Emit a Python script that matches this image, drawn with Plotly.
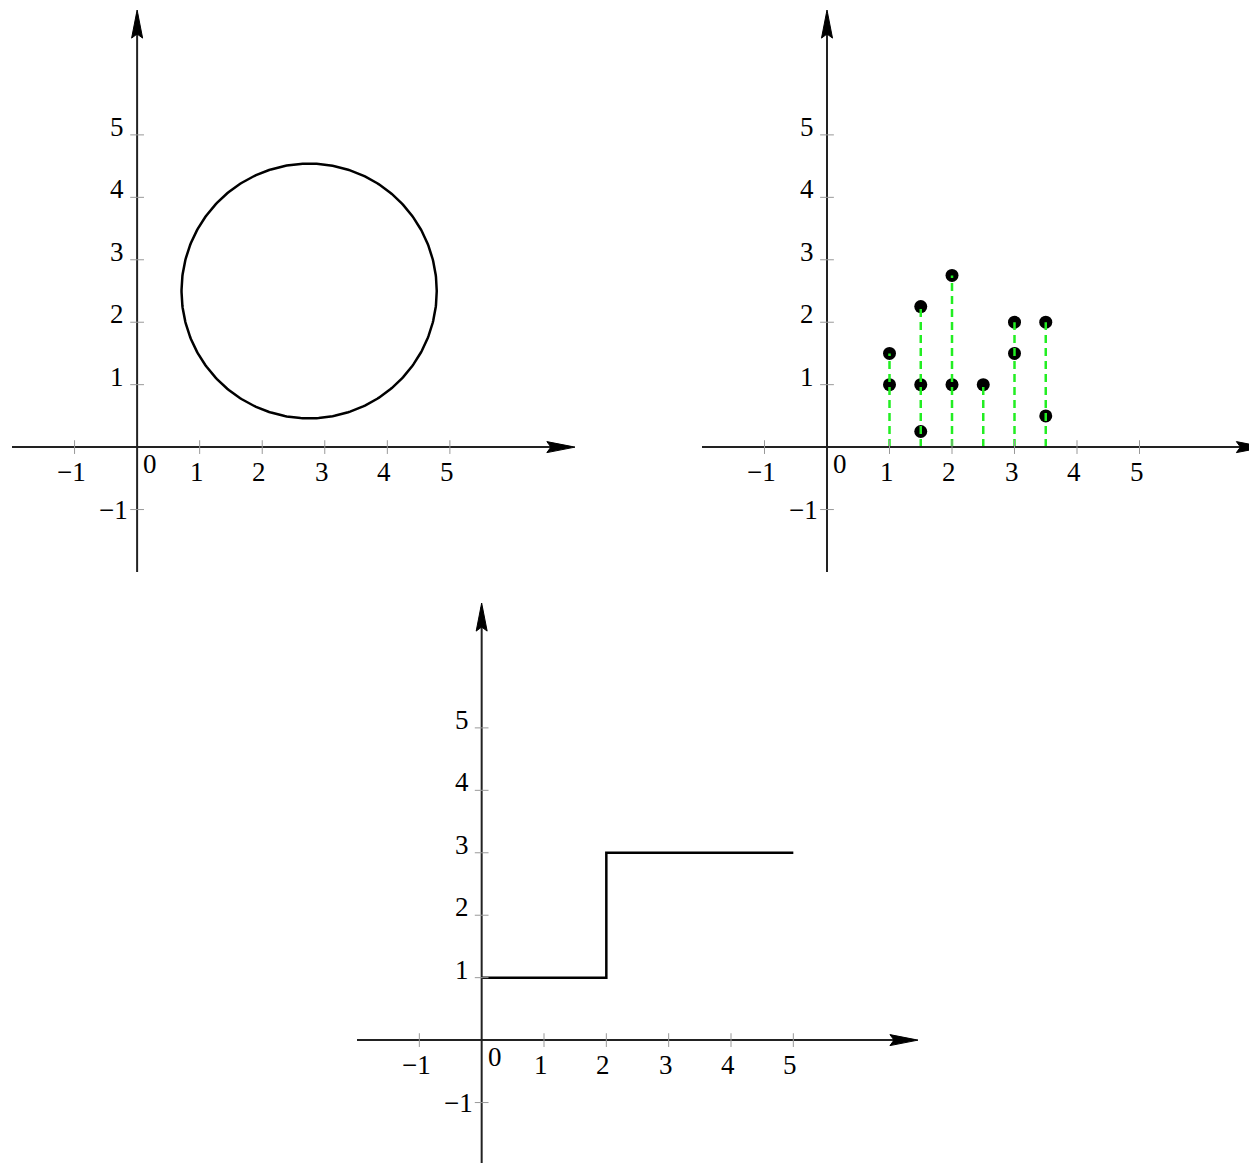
import numpy as np
import plotly.graph_objects as go

# ---------------- data ----------------
x_ticks = [-1, 1, 2, 3, 4, 5]
y_ticks = [-1, 1, 2, 3, 4, 5]
x_tick_labels = ["\u22121", "1", "2", "3", "4", "5"]
y_tick_labels = ["\u22121", "1", "2", "3", "4", "5"]

circle_center_x = 2.75
circle_center_y = 2.5
circle_radius = 2.04

points_x = [1, 1, 1.5, 1.5, 1.5, 2, 2, 2.5, 3, 3, 3.5, 3.5]
points_y = [1, 1.5, 0.25, 1, 2.25, 1, 2.75, 1, 1.5, 2, 0.5, 2]

step_x = [0, 2, 5]
step_y = [1, 3, 3]

# ---------------- figure ----------------
OFF = 8  # page body margin
W, H = 1257 - OFF, 1163 - OFF
fig = go.Figure()


def px_x(p):
    return (p - OFF) / W


def px_y(p):
    return 1 - (p - OFF) / H


panels = [
    dict(xa="x", ya="y", xdom=[px_x(12), px_x(575)], ydom=[px_y(572), px_y(10)],
         xr=[-2, 7], yr=[-2, 7]),
    dict(xa="x2", ya="y2", xdom=[px_x(702), 1.0], ydom=[px_y(572), px_y(10)],
         xr=[-2, (1257 - 827) / 62.5], yr=[-2, 7]),
    dict(xa="x3", ya="y3", xdom=[px_x(357), px_x(918)], ydom=[0.0, px_y(603)],
         xr=[-2, 7], yr=[-(1163 - 1040) / 62.5, 7]),
]

FONT = dict(family="Liberation Serif", size=27, color="black")
AXIS_COL = "#222222"
TICK_COL = "#999999"
shapes = []
annots = []
AL, AW, AI = 0.45, 0.088, 0.065  # arrow length, half-width, indent (data units)

for i, p in enumerate(panels):
    sfx = "" if i == 0 else str(i + 1)
    xa, ya = p["xa"], p["ya"]
    fig.update_layout(**{
        "xaxis" + sfx: dict(domain=p["xdom"], range=p["xr"], visible=False, fixedrange=True),
        "yaxis" + sfx: dict(domain=p["ydom"], range=p["yr"], visible=False, fixedrange=True),
    })
    # axis lines
    shapes.append(dict(type="line", xref=xa, yref=ya, x0=-2, x1=7 - AI, y0=0, y1=0,
                       line=dict(color=AXIS_COL, width=2)))
    shapes.append(dict(type="line", xref=xa, yref=ya, x0=0, x1=0, y0=-2, y1=7 - AI,
                       line=dict(color=AXIS_COL, width=2)))
    # arrowheads
    shapes.append(dict(type="path", xref=xa, yref=ya,
                       path=f"M 7,0 L {7-AL},{AW} L {7-AL+AI},0 L {7-AL},{-AW} Z",
                       fillcolor="black", line=dict(color="black", width=1)))
    shapes.append(dict(type="path", xref=xa, yref=ya,
                       path=f"M 0,7 L {AW},{7-AL} L 0,{7-AL+AI} L {-AW},{7-AL} Z",
                       fillcolor="black", line=dict(color="black", width=1)))
    # ticks
    for t, lab in zip(x_ticks, x_tick_labels):
        shapes.append(dict(type="line", xref=xa, yref=ya, x0=t, x1=t, y0=-0.11, y1=0.11,
                           line=dict(color=TICK_COL, width=1)))
        annots.append(dict(xref=xa, yref=ya, x=t, y=0, text=lab, showarrow=False,
                           xanchor="center", yanchor="middle", xshift=-3, yshift=-25, font=FONT))
    for t, lab in zip(y_ticks, y_tick_labels):
        shapes.append(dict(type="line", xref=xa, yref=ya, y0=t, y1=t, x0=-0.11, x1=0.11,
                           line=dict(color=TICK_COL, width=1)))
        if t > 0:
            annots.append(dict(xref=xa, yref=ya, x=0, y=t, text=lab, showarrow=False,
                               xanchor="right", yanchor="middle", xshift=-11, yshift=8, font=FONT))
        else:
            annots.append(dict(xref=xa, yref=ya, x=0, y=t, text=lab, showarrow=False,
                               xanchor="right", yanchor="middle", xshift=-7, yshift=0, font=FONT))
    annots.append(dict(xref=xa, yref=ya, x=0, y=0, text="0", showarrow=False,
                       xanchor="center", yanchor="middle", xshift=13, yshift=-17, font=FONT))

# panel 1: circle
theta = np.linspace(0, 2 * np.pi, 400)
fig.add_trace(go.Scatter(x=circle_center_x + circle_radius * np.cos(theta),
                         y=circle_center_y + circle_radius * np.sin(theta),
                         mode="lines", line=dict(color="black", width=2.5),
                         xaxis="x", yaxis="y", hoverinfo="skip"))

# panel 2: points with green dashed stems
fig.add_trace(go.Scatter(x=points_x, y=points_y, mode="markers",
                         marker=dict(color="black", size=13),
                         xaxis="x2", yaxis="y2"))
stem_x = sorted(set(points_x))
for sx in stem_x:
    top = max(py for px, py in zip(points_x, points_y) if px == sx)
    fig.add_trace(go.Scatter(x=[sx, sx], y=[0, top], mode="lines",
                             line=dict(color="#22ee22", width=2.5, dash="8px,5px"),
                             xaxis="x2", yaxis="y2", hoverinfo="skip"))

# panel 3: step function
fig.add_trace(go.Scatter(x=step_x, y=step_y, mode="lines", line_shape="hv",
                         line=dict(color="black", width=2.5),
                         xaxis="x3", yaxis="y3"))

fig.update_layout(width=W, height=H, margin=dict(l=0, r=0, t=0, b=0),
                  paper_bgcolor="white", plot_bgcolor="white", showlegend=False,
                  shapes=shapes, annotations=annots)

fig.write_html("out.html")
